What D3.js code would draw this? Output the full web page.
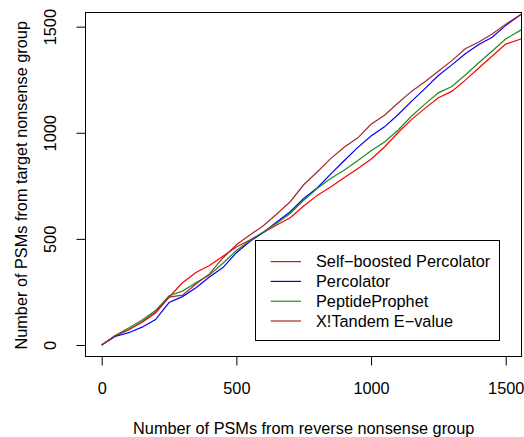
<!DOCTYPE html>
<html><head><meta charset="utf-8">
<script src="https://cdn.jsdelivr.net/npm/d3@7"></script>
<style>html,body{margin:0;padding:0;background:#fff}svg{display:block}text{font-family:"Liberation Sans",Arial,sans-serif}</style>
</head><body>
<script>
const xValues = [0,50,100,150,200,250,300,350,400,450,500,550,600,650,700,750,800,850,900,950,1000,1050,1100,1150,1200,1250,1300,1350,1400,1450,1500,1559];
const selfBoosted = [0,44,72,107,150,225,293,342,375,418,462,495,530,565,600,655,705,745,788,830,875,933,1000,1062,1115,1165,1195,1248,1305,1362,1418,1443];
const percolator  = [0,40,58,84,120,200,228,270,320,365,435,488,530,580,628,690,740,805,868,930,985,1028,1085,1148,1208,1270,1320,1372,1416,1450,1506,1560];
const peptideProphet = [0,45,80,118,162,232,254,293,330,385,445,492,533,574,620,682,737,785,823,868,915,957,1012,1078,1135,1188,1218,1272,1330,1385,1442,1486];
const xtandem = [0,44,72,110,156,226,235,287,335,410,472,518,562,617,675,755,815,878,932,975,1040,1083,1140,1195,1240,1290,1340,1396,1428,1465,1512,1560];
const seriesNames = ["Self\u2212boosted Percolator","Percolator","PeptideProphet","X!Tandem E\u2212value"];
const seriesColors = ["#FF0000","#0000FF","#228B22","#A52A2A"];
const xTicks = [0,500,1000,1500];
const yTicks = [0,500,1000,1500];
const xTitle = "Number of PSMs from reverse nonsense group";
const yTitle = "Number of PSMs from target nonsense group";

const W = 524, H = 437;
const L = 85.7, R = 521.7, T = 13.3, B = 357.3;
const FS = 16.3;
const svg = d3.select("body").append("svg").attr("width", W).attr("height", H);
const x = d3.scaleLinear().domain([-59.4, 1559.4]).range([L, R]);
const y = d3.scaleLinear().domain([-58, 1563]).range([B, T]);

const allSeries = [selfBoosted, percolator, peptideProphet, xtandem];

svg.append("clipPath").attr("id","clip").append("rect")
  .attr("x", L).attr("y", T).attr("width", R - L).attr("height", B - T);

const line = d3.line().x((d,i) => x(xValues[i])).y(d => y(d));
const g = svg.append("g").attr("clip-path","url(#clip)");
allSeries.forEach((s, k) => {
  g.append("path").datum(s).attr("d", line).attr("fill","none")
    .attr("stroke", seriesColors[k]).attr("stroke-width", 1.2);
});

// box
svg.append("rect").attr("x", Math.round(L) - 0.5).attr("y", Math.round(T) - 0.5)
  .attr("width", Math.round(R) - Math.round(L)).attr("height", Math.round(B) - Math.round(T))
  .attr("fill","none").attr("stroke","#000").attr("stroke-width",1);

// x axis
const xAxis = d3.axisBottom(x).tickValues(xTicks).tickFormat(d3.format("d")).tickSize(9).tickPadding(17);
const gx = svg.append("g").attr("transform", `translate(0,${Math.round(B) - 0.5})`).call(xAxis);
gx.select(".domain").remove();
gx.selectAll("text").attr("font-size", FS).attr("font-family", '"Liberation Sans",Arial,sans-serif').attr("fill","#000");
gx.selectAll("line").attr("stroke","#000");

// y axis
const yAxis = d3.axisLeft(y).tickValues(yTicks).tickFormat(d3.format("d")).tickSize(9).tickPadding(0);
const gy = svg.append("g").attr("transform", `translate(${Math.round(L) - 0.5},0)`).call(yAxis);
gy.select(".domain").remove();
gy.selectAll("line").attr("stroke","#000");
gy.selectAll("text").attr("font-size", FS).attr("font-family", '"Liberation Sans",Arial,sans-serif').attr("fill","#000")
  .attr("x", null).attr("dy", null)
  .attr("text-anchor","middle")
  .attr("transform", d => `translate(${56 - (Math.round(L) - 0.5)},0) rotate(-90)`);

// titles
svg.append("text").attr("x", (L + R) / 2).attr("y", 434).attr("text-anchor","middle")
  .attr("font-size", FS).text(xTitle);
svg.append("text").attr("transform", `translate(27,${(T + B) / 2}) rotate(-90)`).attr("text-anchor","middle")
  .attr("font-size", FS).text(yTitle);

// legend
const lg = svg.append("g");
lg.append("rect").attr("x", 255.5).attr("y", 240.5).attr("width", 244).attr("height", 100)
  .attr("fill","#fff").attr("stroke","#000").attr("stroke-width",1);
seriesNames.forEach((n, i) => {
  const cy = 261.6 + i * 19.8;
  lg.append("line").attr("x1", 270.7).attr("x2", 301).attr("y1", cy).attr("y2", cy)
    .attr("stroke", seriesColors[i]).attr("stroke-width", 1.2);
  lg.append("text").attr("x", 316).attr("y", cy + 5.8).attr("font-size", FS).text(n);
});
</script>
</body></html>
